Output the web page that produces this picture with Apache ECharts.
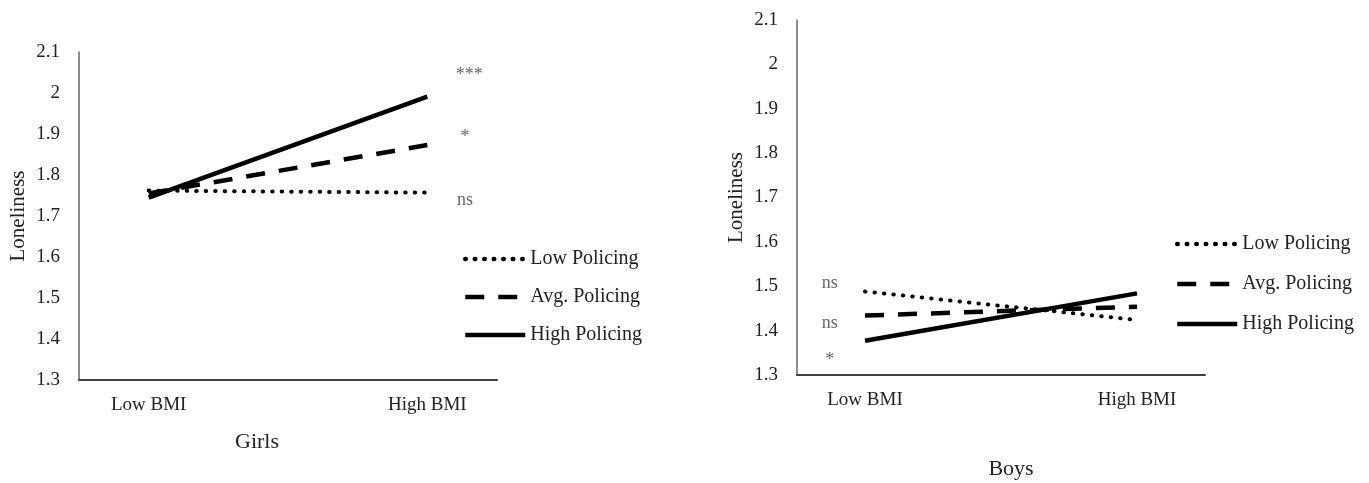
<!DOCTYPE html>
<html>
<head>
<meta charset="utf-8">
<script src="https://cdn.jsdelivr.net/npm/echarts@6/dist/echarts.min.js"></script>
<style>
html,body{margin:0;padding:0;background:#fff;}
#chart{width:1369px;height:483px;}
</style>
</head>
<body>
<div id="chart"></div>
<script>
// ---- data ----
var categories = ['Low BMI', 'High BMI'];
var seriesNames = ['Low Policing', 'Avg. Policing', 'High Policing'];
var yTicks = [1.3, 1.4, 1.5, 1.6, 1.7, 1.8, 1.9, 2.0, 2.1];
// Girls
var girlsLow = [1.762, 1.757];
var girlsAvg = [1.755, 1.873];
var girlsHigh = [1.745, 1.991];
var girlsSigText = ['***', '*', 'ns'];
var girlsSigY = [2.044, 1.893, 1.739];
var girlsSigX = [1.15, 1.135, 1.135];
// Boys
var boysLow = [1.488, 1.424];
var boysAvg = [1.434, 1.454];
var boysHigh = [1.377, 1.484];
var boysSigText = ['ns', 'ns', '*'];
var boysSigY = [1.507, 1.417, 1.334];
var boysSigX = [-0.13, -0.13, -0.13];
var panelTitles = ['Girls', 'Boys'];

// ---- styles ----
var FONT = '"Liberation Serif", "Times New Roman", serif';
var styles = [
  {type: [0.5, 9], width: 4, cap: 'round', color: '#000'},
  {type: [19, 14], width: 4.5, cap: 'butt', color: '#000'},
  {type: 'solid', width: 4.5, cap: 'butt', color: '#000'}
];

function pts(arr) { return arr.map(function (v, i) { return [i, v]; }); }
function sig(xs, ys, ts) { return ys.map(function (y, i) { return [xs[i], y, ts[i]]; }); }

function lineSeries(name, vals, idx, s) {
  return {
    name: name, type: 'line', xAxisIndex: idx, yAxisIndex: idx,
    data: pts(vals), symbol: 'none', showSymbol: false,
    lineStyle: s, itemStyle: {color: '#000'}, silent: true, animation: false,
    emphasis: {disabled: true}
  };
}
function sigSeries(data, idx) {
  return {
    type: 'scatter', xAxisIndex: idx, yAxisIndex: idx, data: data,
    symbolSize: 1, itemStyle: {color: 'rgba(0,0,0,0)'}, silent: true, animation: false,
    label: {show: true, position: 'inside', formatter: function (p) { return p.value[2]; },
      fontFamily: FONT, fontSize: 18, color: '#404040'}
  };
}
function xAxis(idx) {
  return {
    type: 'value', gridIndex: idx, min: -0.25, max: 1.25,
    splitLine: {show: false},
    axisLine: {show: true, onZero: false, lineStyle: {color: '#404040', width: 2}},
    axisTick: {show: false},
    axisLabel: {customValues: [0, 1], formatter: function (v) { return categories[Math.round(v)]; },
      fontFamily: FONT, fontSize: 19, color: '#222', margin: 16}
  };
}
function yAxis(idx) {
  return {
    type: 'value', gridIndex: idx, min: yTicks[0], max: yTicks[yTicks.length - 1], interval: 0.1,
    name: 'Loneliness', nameLocation: 'middle', nameGap: 50, nameRotate: 90,
    nameTextStyle: {fontFamily: FONT, fontSize: 21, color: '#222'},
    splitLine: {show: false},
    axisLine: {show: true, onZero: false, lineStyle: {color: '#666', width: 1.5}},
    axisTick: {show: false},
    axisLabel: {fontFamily: FONT, fontSize: 19, color: '#222', margin: 19,
      formatter: function (v) { return String(Math.round(v * 10) / 10); }}
  };
}
function legend(left, top, gap) {
  return {
    data: seriesNames, orient: 'vertical', left: left, top: top, padding: 0,
    itemWidth: 60, itemHeight: 20, itemGap: gap,
    textStyle: {fontFamily: FONT, fontSize: 20, color: '#222'},
    itemStyle: {opacity: 0},
    lineStyle: {width: 4.5}, selectedMode: false
  };
}

var chart = echarts.init(document.getElementById('chart'), null, {renderer: 'canvas'});
chart.setOption({
  backgroundColor: '#fff',
  animation: false,
  title: [
    {text: panelTitles[0], left: 252, top: 426, textAlign: 'center',
      textStyle: {fontFamily: FONT, fontSize: 22, fontWeight: 'normal', color: '#222'}},
    {text: panelTitles[1], left: 1006, top: 453, textAlign: 'center',
      textStyle: {fontFamily: FONT, fontSize: 22, fontWeight: 'normal', color: '#222'}}
  ],
  legend: [legend(463, 249, 18), legend(1175, 234, 20)],
  grid: [
    {left: 79, top: 52, width: 418, height: 328},
    {left: 797, top: 20, width: 408, height: 355}
  ],
  xAxis: [xAxis(0), xAxis(1)],
  yAxis: [yAxis(0), yAxis(1)],
  series: [
    lineSeries(seriesNames[0], girlsLow, 0, styles[0]),
    lineSeries(seriesNames[1], girlsAvg, 0, styles[1]),
    lineSeries(seriesNames[2], girlsHigh, 0, styles[2]),
    lineSeries(seriesNames[0], boysLow, 1, styles[0]),
    lineSeries(seriesNames[1], boysAvg, 1, styles[1]),
    lineSeries(seriesNames[2], boysHigh, 1, styles[2]),
    sigSeries(sig(girlsSigX, girlsSigY, girlsSigText), 0),
    sigSeries(sig(boysSigX, boysSigY, boysSigText), 1)
  ]
});
</script>
</body>
</html>
